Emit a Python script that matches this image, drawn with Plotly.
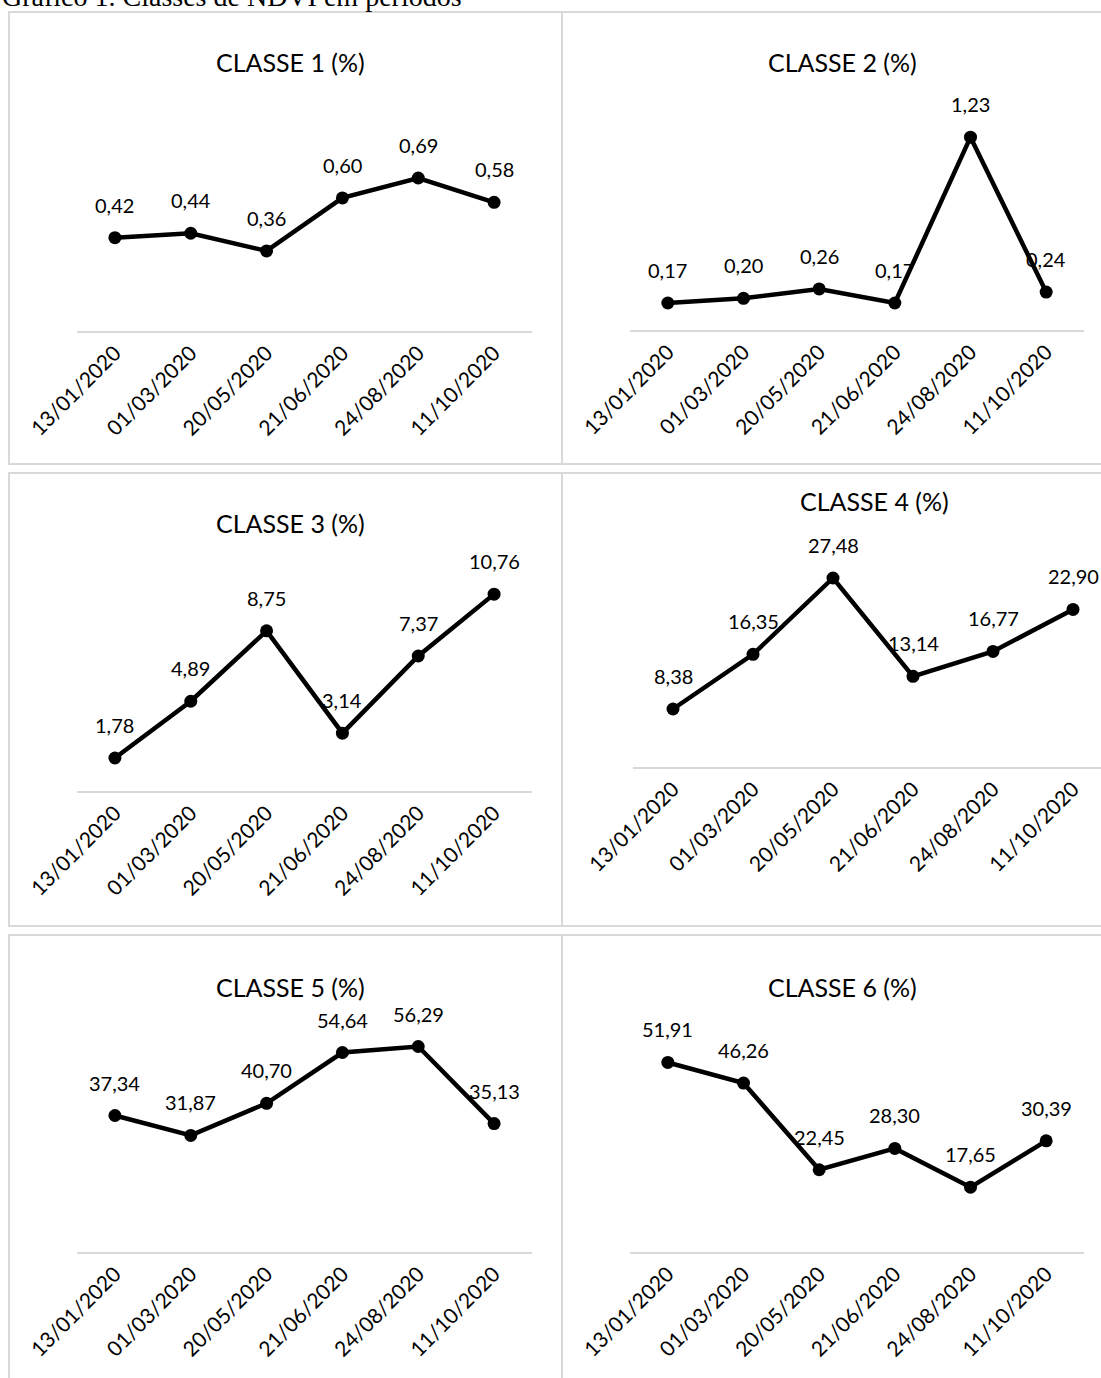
import plotly.graph_objects as go

# Acquisition dates (shared category axis)
dates = ["13/01/2020", "01/03/2020", "20/05/2020", "21/06/2020", "24/08/2020", "11/10/2020"]

# NDVI class share (%) per date
classe_1 = [0.42, 0.44, 0.36, 0.60, 0.69, 0.58]
classe_2 = [0.17, 0.20, 0.26, 0.17, 1.23, 0.24]
classe_3 = [1.78, 4.89, 8.75, 3.14, 7.37, 10.76]
classe_4 = [8.38, 16.35, 27.48, 13.14, 16.77, 22.90]
classe_5 = [37.34, 31.87, 40.70, 54.64, 56.29, 35.13]
classe_6 = [51.91, 46.26, 22.45, 28.30, 17.65, 30.39]

titles = ["CLASSE 1 (%)", "CLASSE 2 (%)", "CLASSE 3 (%)",
          "CLASSE 4 (%)", "CLASSE 5 (%)", "CLASSE 6 (%)"]
series = [classe_1, classe_2, classe_3, classe_4, classe_5, classe_6]
y_max = [1.0, 1.4, 12, 30, 60, 60]

caption = "Gráfico 1. Classes de NDVI em períodos"

W, H = 1101, 1378
FONT = "Lato, Carlito, 'Liberation Sans', sans-serif"
BORDER = "#d9d9d9"

# Pixel layout of every chart: plot box (left, right, zero line, top),
# category range, title centre and chart frame.
panels = [
    dict(px=(77, 532), py=(330.5, 109.5), xr=(-0.5, 5.5), title=(290, 62), frame=(9, 562, 12, 464)),
    dict(px=(630, 1084), py=(329.6, 110.6), xr=(-0.5, 5.5), title=(842, 62), frame=(562, 1120, 12, 464)),
    dict(px=(77, 532), py=(790.5, 571.5), xr=(-0.5, 5.5), title=(290, 523), frame=(9, 562, 473, 926)),
    dict(px=(633, 1101), py=(766.5, 560.7), xr=(-0.5, 5.35), title=(874, 501), frame=(562, 1120, 473, 926)),
    dict(px=(77, 532), py=(1251.5, 1033.0), xr=(-0.5, 5.5), title=(290, 987), frame=(9, 562, 935, 1400)),
    dict(px=(630, 1084), py=(1251.5, 1033.0), xr=(-0.5, 5.5), title=(842, 987), frame=(562, 1120, 935, 1400)),
]


def fx(px):
    return px / W


def fy(py):
    return 1 - py / H


def fmt(v):
    return f"{v:.2f}".replace(".", ",")


fig = go.Figure()
annotations = []
shapes = []

for i, (vals, title, ymax, p) in enumerate(zip(series, titles, y_max, panels), start=1):
    xa = "x" if i == 1 else f"x{i}"
    ya = "y" if i == 1 else f"y{i}"

    fig.add_trace(go.Scatter(
        x=dates, y=vals, xaxis=xa, yaxis=ya,
        mode="lines+markers",
        line=dict(color="black", width=4.5),
        marker=dict(color="black", size=13),
        showlegend=False, hoverinfo="x+y",
    ))

    fig.layout[f"xaxis{'' if i == 1 else i}"] = dict(
        domain=[fx(p["px"][0]), fx(p["px"][1])],
        anchor=ya, type="category", range=list(p["xr"]),
        showline=True, linecolor=BORDER, linewidth=2,
        showgrid=False, zeroline=False, ticks="",
        automargin=False,
        tickangle=-45, tickfont=dict(family=FONT, size=21, color="black"),
    )
    fig.layout[f"yaxis{'' if i == 1 else i}"] = dict(
        domain=[fy(p["py"][0]), fy(p["py"][1])],
        anchor=xa, range=[0, ymax], automargin=False,
        visible=False, showgrid=False, zeroline=False,
    )

    # value labels above each point
    for d, v in zip(dates, vals):
        annotations.append(dict(
            x=d, y=v, xref=xa, yref=ya, text=fmt(v), showarrow=False,
            yshift=33, xanchor="center", yanchor="middle",
            font=dict(family=FONT, size=20, color="black"),
        ))

    # chart title
    annotations.append(dict(
        x=fx(p["title"][0]), y=fy(p["title"][1]), xref="paper", yref="paper",
        text=title, showarrow=False, xanchor="center", yanchor="middle",
        font=dict(family=FONT, size=25, color="black"),
    ))

    # chart frame
    x0, x1, y0, y1 = p["frame"]
    shapes.append(dict(
        type="rect", xref="paper", yref="paper",
        x0=fx(x0), x1=fx(x1), y0=fy(y1), y1=fy(y0),
        line=dict(color=BORDER, width=2), fillcolor="rgba(0,0,0,0)", layer="below",
    ))

# figure caption above the charts (page starts just above its baseline)
annotations.append(dict(
    x=0, y=fy(-4), xref="paper", yref="paper", text=caption, showarrow=False,
    xanchor="left", yanchor="middle",
    font=dict(family="'Liberation Serif', 'Times New Roman', serif", size=28, color="black"),
))

fig.update_layout(
    width=W, height=H,
    margin=dict(l=0, r=0, t=0, b=0, autoexpand=False),
    paper_bgcolor="white", plot_bgcolor="white",
    annotations=annotations, shapes=shapes,
    showlegend=False,
)

fig.write_html("out.html")
